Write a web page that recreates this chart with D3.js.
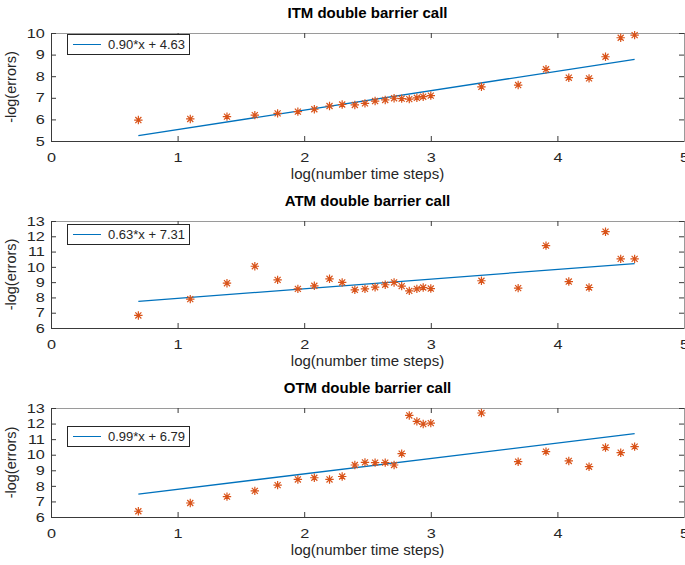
<!DOCTYPE html>
<html>
<head>
<meta charset="utf-8">
<script src="https://cdn.jsdelivr.net/npm/d3@7"></script>
<style>
  body { margin: 0; background: #fff; }
  text { font-family: "Liberation Sans", Arial, Helvetica, sans-serif; fill: #262626; }
</style>
</head>
<body>
<div id="chart"></div>
<script>
// log(number time steps)
var logSteps = [0.69, 1.10, 1.39, 1.61, 1.79, 1.95, 2.08, 2.20, 2.30, 2.40, 2.48, 2.56, 2.64, 2.71,
    2.77, 2.83, 2.89, 2.94, 3.00, 3.40, 3.69, 3.91, 4.09, 4.25, 4.38, 4.50, 4.61]

// -log(errors) for each option
var itmErrors = [5.97, 6.02, 6.13, 6.20, 6.28, 6.36, 6.47, 6.62, 6.69, 6.67, 6.74, 6.85, 6.90, 6.98,
    6.96, 6.94, 7.00, 7.05, 7.10, 7.51, 7.59, 8.32, 7.93, 7.90, 8.90, 9.78, 9.90]
var atmErrors = [6.82, 7.89, 8.93, 10.04, 9.15, 8.56, 8.76, 9.22, 8.98, 8.50, 8.56, 8.67, 8.83, 8.98,
    8.74, 8.43, 8.56, 8.65, 8.58, 9.09, 8.61, 11.39, 9.04, 8.65, 12.30, 10.52, 10.52]
var otmErrors = [6.37, 6.90, 7.31, 7.68, 8.05, 8.41, 8.52, 8.41, 8.60, 9.34, 9.51, 9.49, 9.49, 9.34,
    10.07, 12.52, 12.14, 11.97, 12.03, 12.68, 9.55, 10.20, 9.60, 9.23, 10.46, 10.13, 10.52]

var titles = ['ITM double barrier call', 'ATM double barrier call', 'OTM double barrier call']
var slopes = [0.90, 0.63, 0.99]
var intercepts = [4.63, 7.31, 6.79]
var fitLabels = ['0.90*x + 4.63', '0.63*x + 7.31', '0.99*x + 6.79']

var xDomain = [0, 5]
var xTicks = [0, 1, 2, 3, 4, 5]
var yDomains = [[5, 10], [6, 13], [6, 13]]
var yTicks = [[5, 6, 7, 8, 9, 10], [6, 7, 8, 9, 10, 11, 12, 13], [6, 7, 8, 9, 10, 11, 12, 13]]

var series = [itmErrors, atmErrors, otmErrors]

var w = 685,
    h = 565,
    left = 51,
    right = 684

// panel placement
var tops = [33, 221, 408],
    bottoms = [141, 328, 517],
    legendTops = [34, 224, 426]

var blue = '#0072BD',
    orange = '#D95319'

var svg = d3.select('#chart')
    .append('svg')
    .attr('width', w)
    .attr('height', h)

var xscale = d3.scaleLinear()
    .domain(xDomain)
    .range([left, right])

var fmt = d3.format('d')

// 8-ray asterisk like matlab '*'
function star(r) {
    var d = r * 0.72
    return `M${-r},0L${r},0M0,${-r}L0,${r}M${-d},${-d}L${d},${d}M${-d},${d}L${d},${-d}`
}

series.forEach(function (vals, k) {
    var top = tops[k],
        bottom = bottoms[k]

    var yscale = d3.scaleLinear()
        .domain(yDomains[k])
        .range([bottom, top])

    var g = svg.append('g')

    // axes with inside ticks
    var bottomAxis = g.append('g')
        .attr('transform', `translate(0, ${bottom})`)
        .call(d3.axisBottom(xscale).tickValues(xTicks).tickFormat(fmt).tickSizeInner(-5).tickSizeOuter(0).tickPadding(12))
    bottomAxis.selectAll('text')
        .style('font-size', '13px')
        .attr('transform', 'scale(1.25,1)')

    g.append('g')
        .attr('transform', `translate(0, ${top})`)
        .call(d3.axisTop(xscale).tickValues(xTicks).tickSizeInner(-5).tickSizeOuter(0).tickFormat(''))
        .attr('class', 'light')

    var leftAxis = g.append('g')
        .attr('transform', `translate(${left}, 0)`)
        .call(d3.axisLeft(yscale).tickValues(yTicks[k]).tickFormat(fmt).tickSizeInner(-5).tickSizeOuter(0).tickPadding(5))
    leftAxis.selectAll('text')
        .style('font-size', '13px')
        .attr('transform', 'scale(1.25,1)')

    g.append('g')
        .attr('transform', `translate(${right}, 0)`)
        .call(d3.axisRight(yscale).tickValues(yTicks[k]).tickSizeInner(-5).tickSizeOuter(0).tickFormat(''))
        .attr('class', 'light')

    g.selectAll('.domain').attr('stroke', '#3a3a3a')
    g.selectAll('.tick line').attr('stroke', '#3a3a3a')
    g.selectAll('.light .domain').attr('stroke', '#9a9a9a')
    g.selectAll('.tick text').attr('fill', '#262626')

    // fitted line
    var ends = [d3.min(logSteps), d3.max(logSteps)]
    g.append('path')
        .datum(ends)
        .attr('fill', 'none')
        .attr('stroke', blue)
        .attr('stroke-width', 1.3)
        .attr('d', d3.line()
            .x(d => xscale(d))
            .y(d => yscale(slopes[k] * d + intercepts[k])))

    // points
    g.selectAll('.pt')
        .data(vals)
        .enter()
        .append('path')
        .attr('class', 'pt')
        .attr('transform', (d, i) => `translate(${xscale(logSteps[i])}, ${yscale(d)})`)
        .attr('d', star(4.2))
        .attr('fill', 'none')
        .attr('stroke', orange)
        .attr('stroke-width', 1.2)

    // title
    g.append('text')
        .text(titles[k])
        .attr('text-anchor', 'middle')
        .attr('x', (left + right) / 2)
        .attr('y', top - 15)
        .style('font-size', '15px')
        .style('font-weight', 'bold')
        .style('fill', '#000')

    // x label
    g.append('text')
        .text('log(number time steps)')
        .attr('text-anchor', 'middle')
        .attr('x', (left + right) / 2)
        .attr('y', bottom + 38)
        .style('font-size', '15px')

    // y label
    g.append('text')
        .text('-log(errors)')
        .attr('text-anchor', 'middle')
        .attr('transform', `translate(16, ${(top + bottom) / 2}) rotate(-90)`)
        .style('font-size', '14.5px')

    // legend
    var lt = legendTops[k]
    g.append('rect')
        .attr('x', 67.5)
        .attr('y', lt + 0.5)
        .attr('width', 122)
        .attr('height', 20)
        .attr('fill', '#fff')
        .attr('stroke', '#262626')
        .attr('stroke-width', 1)

    g.append('line')
        .attr('x1', 73)
        .attr('x2', 101)
        .attr('y1', lt + 10.5)
        .attr('y2', lt + 10.5)
        .attr('stroke', blue)
        .attr('stroke-width', 1)

    g.append('text')
        .text(fitLabels[k])
        .attr('x', 108)
        .attr('y', lt + 15)
        .style('font-size', '13px')
})
</script>
</body>
</html>
